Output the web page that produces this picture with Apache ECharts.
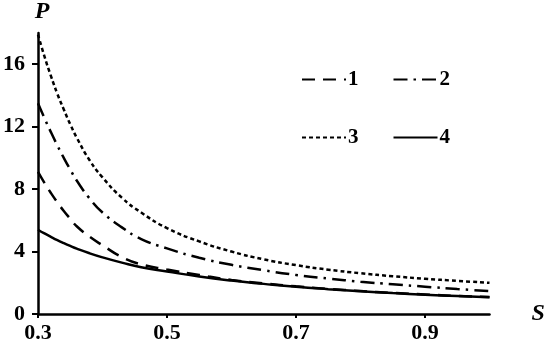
<!DOCTYPE html>
<html>
<head>
<meta charset="utf-8">
<script src="https://cdn.jsdelivr.net/npm/echarts@6/dist/echarts.min.js"></script>
<style>
html,body{margin:0;padding:0;background:#fff;}
#chart{width:550px;height:351px;}
</style>
</head>
<body>
<div id="chart"></div>
<script>
var sValues = [0.30,0.31,0.32,0.33,0.34,0.35,0.36,0.38,0.40,0.43,0.46,0.50,0.55,0.60,0.65,0.70,0.75,0.80,0.85,0.90,0.95,1.00];
var curve1 = [9.1,8.4,7.75,7.15,6.6,6.1,5.62,4.95,4.4,3.65,3.18,2.85,2.5,2.18,1.96,1.77,1.61,1.47,1.35,1.25,1.16,1.09];
var curve2 = [13.5,12.55,11.65,10.8,10.0,9.25,8.55,7.4,6.5,5.55,4.8,4.2,3.6,3.15,2.8,2.5,2.27,2.07,1.9,1.75,1.6,1.47];
var curve3 = [17.9,16.5,15.25,14.1,13.1,12.15,11.3,9.85,8.75,7.45,6.5,5.5,4.65,4.0,3.5,3.13,2.84,2.61,2.42,2.26,2.12,2.0];
var curve4 = [5.4,5.16,4.94,4.73,4.54,4.36,4.19,3.89,3.63,3.29,2.99,2.72,2.4,2.14,1.93,1.74,1.59,1.46,1.34,1.24,1.15,1.08];
var seriesNames = ['1','2','3','4'];
var xTicks = [0.3,0.5,0.7,0.9];
var yTicks = [0,4,8,12,16];

function pairs(vals){ return sValues.map(function(s,i){ return [s, vals[i]]; }); }

var FONT = 'Liberation Serif';
var dashes = [[13,8],[14,6,2.5,6],[4,3],'solid'];
var allCurves = [curve1, curve2, curve3, curve4];
var legendText = {fontFamily:FONT, fontWeight:'bold', fontSize:21, color:'#000', padding:[0,0,0,-3]};

var chart = echarts.init(document.getElementById('chart'), null, {renderer:'canvas'});
chart.setOption({
  animation:false,
  backgroundColor:'#fff',
  grid:{left:37, right:60.5, top:32, bottom:37, containLabel:false},
  legend:[
    {data:['1','2'], left:296, top:64, itemWidth:44, itemHeight:14, itemGap:34,
     itemStyle:{opacity:0}, textStyle:legendText},
    {data:['3','4'], left:296, top:122, itemWidth:44, itemHeight:14, itemGap:34,
     itemStyle:{opacity:0}, textStyle:legendText}
  ],
  xAxis:{
    type:'value', min:0.3, max:1.0,
    name:'S', nameLocation:'end', nameGap:42,
    nameTextStyle:{fontFamily:FONT, fontWeight:'bold', fontStyle:'italic', fontSize:24, color:'#000', verticalAlign:'middle', padding:[0,0,14,0]},
    axisLine:{show:true, lineStyle:{color:'#000', width:2.5}},
    axisTick:{show:true, length:4, customValues:xTicks, lineStyle:{color:'#000', width:2}},
    axisLabel:{customValues:xTicks, margin:8, fontFamily:FONT, fontWeight:'bold', fontSize:22, color:'#000',
      formatter:function(v){return v.toFixed(1);}},
    splitLine:{show:false}
  },
  yAxis:{
    type:'value', min:0, max:18,
    name:'P', nameLocation:'end', nameGap:9,
    nameTextStyle:{fontFamily:FONT, fontWeight:'bold', fontStyle:'italic', fontSize:24, color:'#000', padding:[0,0,0,8]},
    axisLine:{show:true, lineStyle:{color:'#000', width:2.5}},
    axisTick:{show:true, length:6, customValues:yTicks, lineStyle:{color:'#000', width:2}},
    axisLabel:{customValues:yTicks, margin:13, fontFamily:FONT, fontWeight:'bold', fontSize:22, color:'#000'},
    splitLine:{show:false}
  },
  series: seriesNames.map(function(n,i){
    return {
      name:n, type:'line', data:pairs(allCurves[i]),
      smooth:0.5, showSymbol:false, symbol:'none',
      lineStyle:{color:'#000', width:2.5, type:dashes[i]},
      itemStyle:{color:'#000'},
      z: 10 - i
    };
  })
});
</script>
</body>
</html>
